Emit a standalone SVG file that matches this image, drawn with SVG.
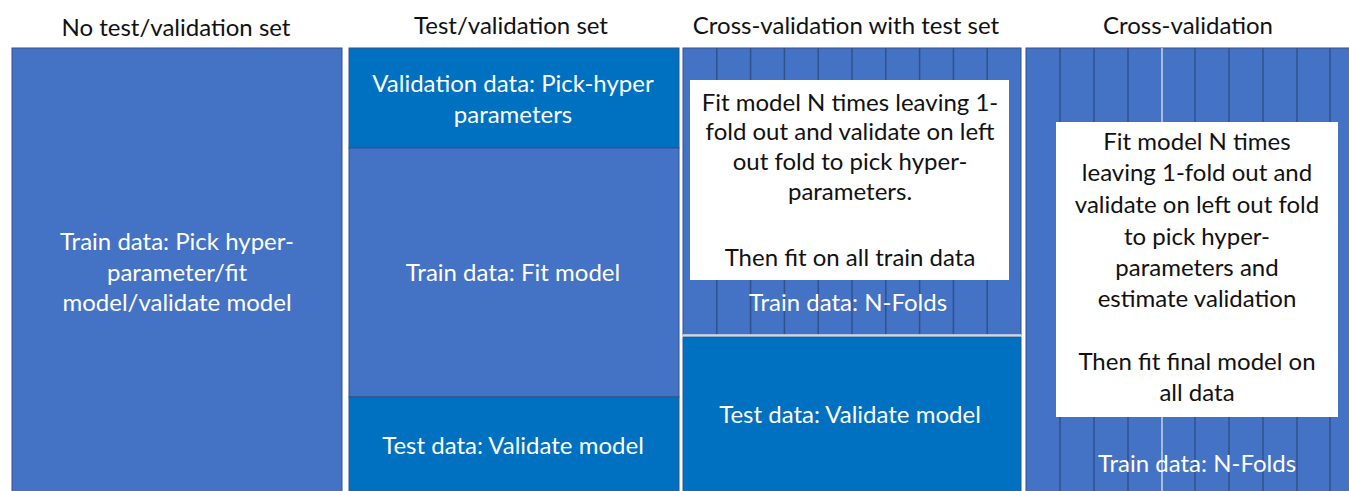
<svg xmlns="http://www.w3.org/2000/svg" width="1349" height="491" viewBox="0 0 1349 491">
<style>
.hdr{font-family:Lato,"Open Sans","Liberation Sans",sans-serif;font-size:24px;fill:#111;text-anchor:middle}
.wt{font-family:Lato,"Open Sans","Liberation Sans",sans-serif;font-size:24px;fill:#fff;text-anchor:middle}
.bk{font-family:Lato,"Open Sans","Liberation Sans",sans-serif;font-size:24px;fill:#111;text-anchor:middle}
.mb{fill:#4472C4;stroke:#2F528F;stroke-width:1}
.db{fill:#0070C0;stroke:#2F528F;stroke-width:1}
.fold{stroke:#2F528F;stroke-width:1.5}
.box{fill:#fff}
</style>
<rect width="1349" height="491" fill="#fff"/>
<g id="headers">
<text class="hdr" x="176" y="36">No test/validation set</text>
<text class="hdr" x="511" y="34">Test/validation set</text>
<text class="hdr" x="846" y="34">Cross-validation with test set</text>
<text class="hdr" x="1188" y="34">Cross-validation</text>
</g>
<g id="col1">
<rect class="mb" x="12" y="48" width="330" height="444"/>
<text class="wt" x="177" y="250">Train data: Pick hyper-</text>
<text class="wt" x="177" y="281">parameter/fit</text>
<text class="wt" x="177" y="311">model/validate model</text>
</g>
<g id="col2">
<rect class="db" x="349" y="48" width="330" height="100"/>
<rect class="mb" x="349" y="148" width="330" height="249"/>
<rect class="db" x="349" y="397" width="330" height="95"/>
<text class="wt" x="513" y="92">Validation data: Pick-hyper</text>
<text class="wt" x="513" y="123">parameters</text>
<text class="wt" x="513" y="281">Train data: Fit model</text>
<text class="wt" x="513" y="454">Test data: Validate model</text>
</g>
<g id="col3">
<rect class="mb" x="683" y="48" width="338" height="287"/>
<g class="fold">
<line x1="716.8" y1="48" x2="716.8" y2="335"/>
<line x1="750.6" y1="48" x2="750.6" y2="335"/>
<line x1="784.4" y1="48" x2="784.4" y2="335"/>
<line x1="818.2" y1="48" x2="818.2" y2="335"/>
<line x1="852" y1="48" x2="852" y2="335"/>
<line x1="885.8" y1="48" x2="885.8" y2="335"/>
<line x1="919.6" y1="48" x2="919.6" y2="335"/>
<line x1="953.4" y1="48" x2="953.4" y2="335"/>
<line x1="987.2" y1="48" x2="987.2" y2="335"/>
</g>
<rect class="box" x="690" y="80" width="319" height="200"/>
<text class="bk" x="850" y="111">Fit model N times leaving 1-</text>
<text class="bk" x="850" y="140">fold out and validate on left</text>
<text class="bk" x="850" y="170">out fold to pick hyper-</text>
<text class="bk" x="850" y="200">parameters.</text>
<text class="bk" x="850" y="266">Then fit on all train data</text>
<text class="wt" x="848" y="311">Train data: N-Folds</text>
<line x1="683" y1="335" x2="1021" y2="335" stroke="#dfe6f2" stroke-width="1.5"/>
<rect class="db" x="683" y="337" width="338" height="155"/>
<text class="wt" x="850" y="423">Test data: Validate model</text>
</g>
<g id="col4">
<rect class="mb" x="1026" y="48" width="330" height="444"/>
<g class="fold">
<line x1="1060" y1="48" x2="1060" y2="491"/>
<line x1="1094" y1="48" x2="1094" y2="491"/>
<line x1="1128" y1="48" x2="1128" y2="491"/>
<line x1="1195" y1="48" x2="1195" y2="491"/>
<line x1="1229" y1="48" x2="1229" y2="491"/>
<line x1="1263" y1="48" x2="1263" y2="491"/>
<line x1="1297" y1="48" x2="1297" y2="491"/>
<line x1="1330" y1="48" x2="1330" y2="491"/>
</g>
<line x1="1162" y1="48" x2="1162" y2="491" stroke="#c9d5ec" stroke-width="1.5"/>
<rect class="box" x="1056" y="122" width="282" height="295"/>
<text class="bk" x="1197" y="150">Fit model N times</text>
<text class="bk" x="1197" y="181">leaving 1-fold out and</text>
<text class="bk" x="1197" y="213">validate on left out fold</text>
<text class="bk" x="1197" y="245">to pick hyper-</text>
<text class="bk" x="1197" y="276">parameters and</text>
<text class="bk" x="1197" y="307">estimate validation</text>
<text class="bk" x="1197" y="370">Then fit final model on</text>
<text class="bk" x="1197" y="401">all data</text>
<text class="wt" x="1197" y="472">Train data: N-Folds</text>
</g>
</svg>
